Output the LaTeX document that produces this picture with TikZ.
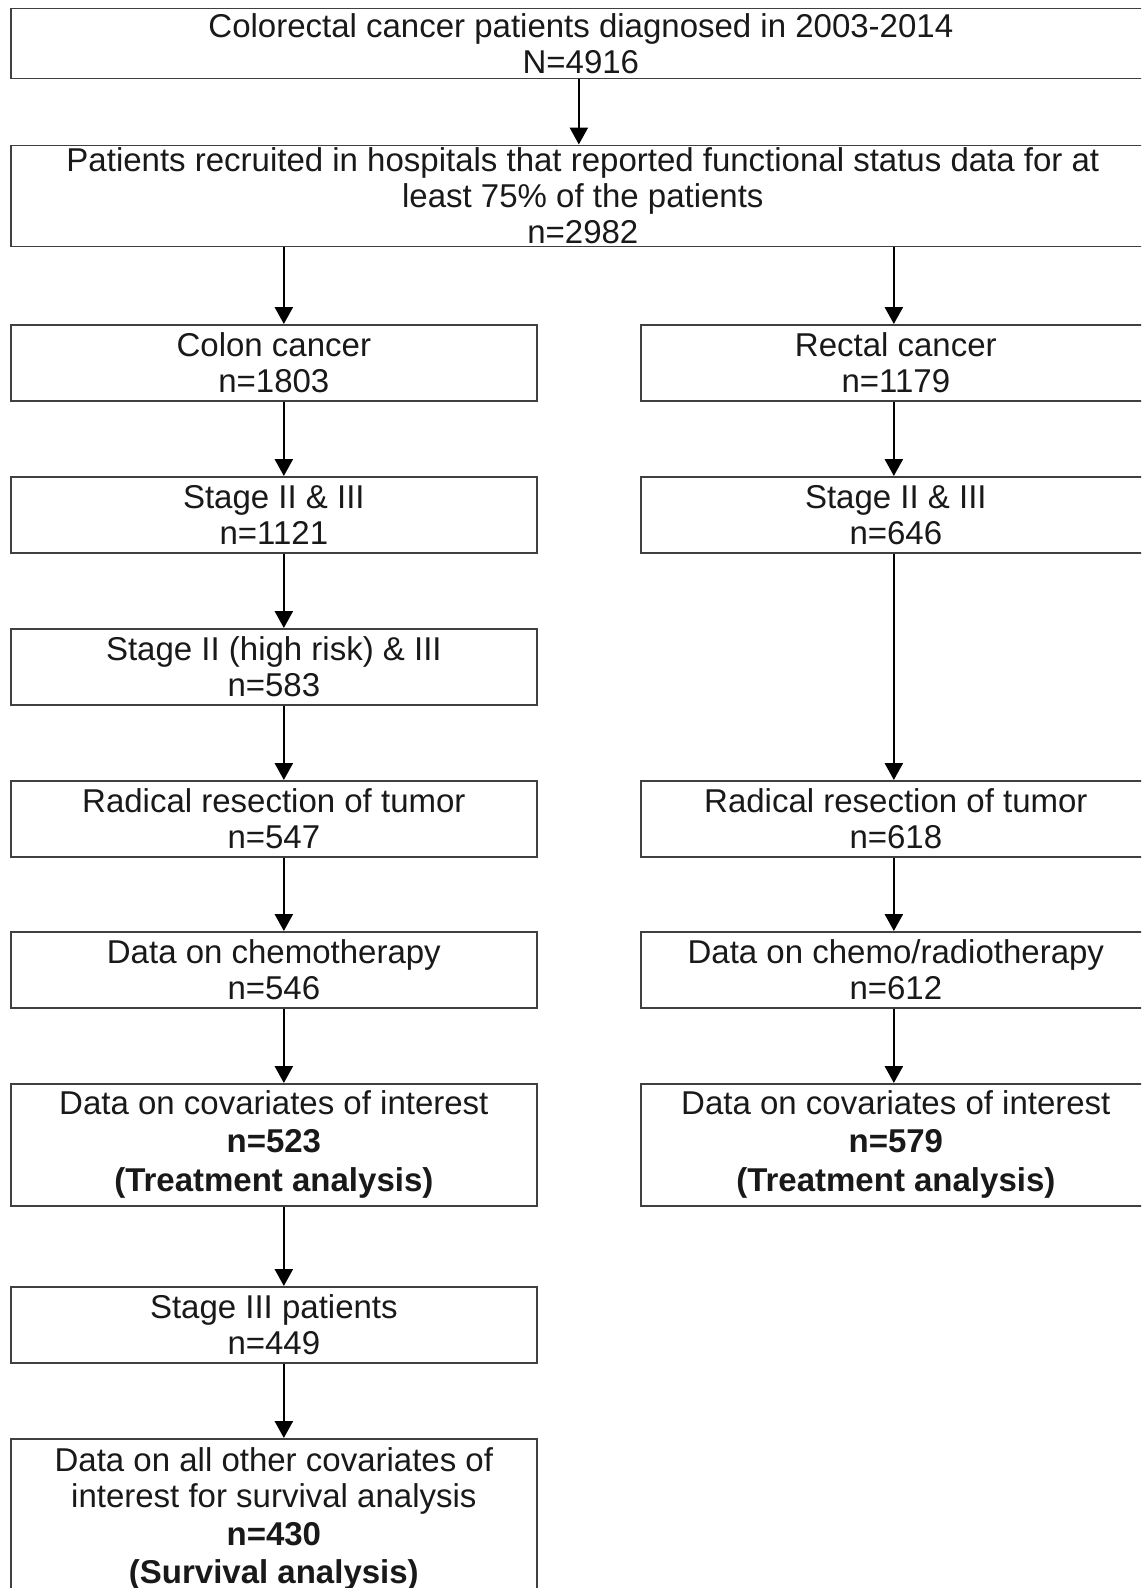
\documentclass[tikz,border=0pt]{standalone}
\usepackage{fontspec}
\setmainfont{Liberation Sans}
\usetikzlibrary{arrows.meta}
\begin{document}
\begin{tikzpicture}[x=1pt,y=-1pt,
  box/.style={draw=black!75,line width=1.7pt,inner sep=0pt,align=center,anchor=north west,
    font=\fontsize{33}{36}\selectfont,text=black!90},
  lbox/.style={box,minimum width=526pt,minimum height=76pt},
  rbox/.style={box,minimum width=510pt,minimum height=76pt},
  arr/.style={draw=black,line width=2.6pt,-{Triangle[length=17pt,width=18pt]}}]
\useasboundingbox (0,0) rectangle (1141,1588);
\clip (0,0) rectangle (1141,1588);
\fill[white] (0,0) rectangle (1141,1588);
% top boxes
\node[box,minimum width=1140pt,minimum height=70pt] (all) at (10,7.5)
  {Colorectal cancer patients diagnosed in 2003-2014\\N=4916};
\node[box,minimum width=1144pt,minimum height=101pt] (hosp) at (10,144.5)
  {Patients recruited in hospitals that reported functional status data for at\\least 75\% of the patients\\n=2982};
% left column
\node[lbox] (colon) at (10,324) {Colon cancer\\n=1803};
\node[lbox] (cst) at (10,476) {Stage II \& III\\n=1121};
\node[lbox] (chr) at (10,628) {Stage II (high risk) \& III\\n=583};
\node[lbox] (crad) at (10,780) {Radical resection of tumor\\n=547};
\node[lbox] (cchem) at (10,931) {Data on chemotherapy\\n=546};
\node[lbox,minimum height=122pt] (ccov) at (10,1083)
  {Data on covariates of interest\\[2pt]\textbf{n=523}\\[3pt]\textbf{(Treatment analysis)}};
\node[lbox] (cst3) at (10,1286) {Stage III patients\\n=449};
\node[lbox,minimum height=160pt] (csurv) at (10,1438)
  {Data on all other covariates of\\interest for survival analysis\\[2pt]\textbf{n=430}\\[2pt]\textbf{(Survival analysis)}};
% right column
\node[rbox] (rect) at (640,324) {Rectal cancer\\n=1179};
\node[rbox] (rst) at (640,476) {Stage II \& III\\n=646};
\node[rbox] (rrad) at (640,780) {Radical resection of tumor\\n=618};
\node[rbox] (rchem) at (640,931) {Data on chemo/radiotherapy\\n=612};
\node[rbox,minimum height=122pt] (rcov) at (640,1083)
  {Data on covariates of interest\\[2pt]\textbf{n=579}\\[3pt]\textbf{(Treatment analysis)}};
% connectors
\coordinate (ax) at ([xshift=-2pt]all.south);
\draw[arr] (ax) -- (ax |- hosp.north);
\coordinate (lx) at ([xshift=10pt]colon.north);
\coordinate (rx) at ([xshift=-2pt]rect.north);
\draw[arr] (lx |- hosp.south) -- (lx |- colon.north);
\draw[arr] (rx |- hosp.south) -- (rx |- rect.north);
\draw[arr] (lx |- colon.south) -- (lx |- cst.north);
\draw[arr] (lx |- cst.south) -- (lx |- chr.north);
\draw[arr] (lx |- chr.south) -- (lx |- crad.north);
\draw[arr] (lx |- crad.south) -- (lx |- cchem.north);
\draw[arr] (lx |- cchem.south) -- (lx |- ccov.north);
\draw[arr] (lx |- ccov.south) -- (lx |- cst3.north);
\draw[arr] (lx |- cst3.south) -- (lx |- csurv.north);
\draw[arr] (rx |- rect.south) -- (rx |- rst.north);
\draw[arr] (rx |- rst.south) -- (rx |- rrad.north);
\draw[arr] (rx |- rrad.south) -- (rx |- rchem.north);
\draw[arr] (rx |- rchem.south) -- (rx |- rcov.north);
\end{tikzpicture}
\end{document}
